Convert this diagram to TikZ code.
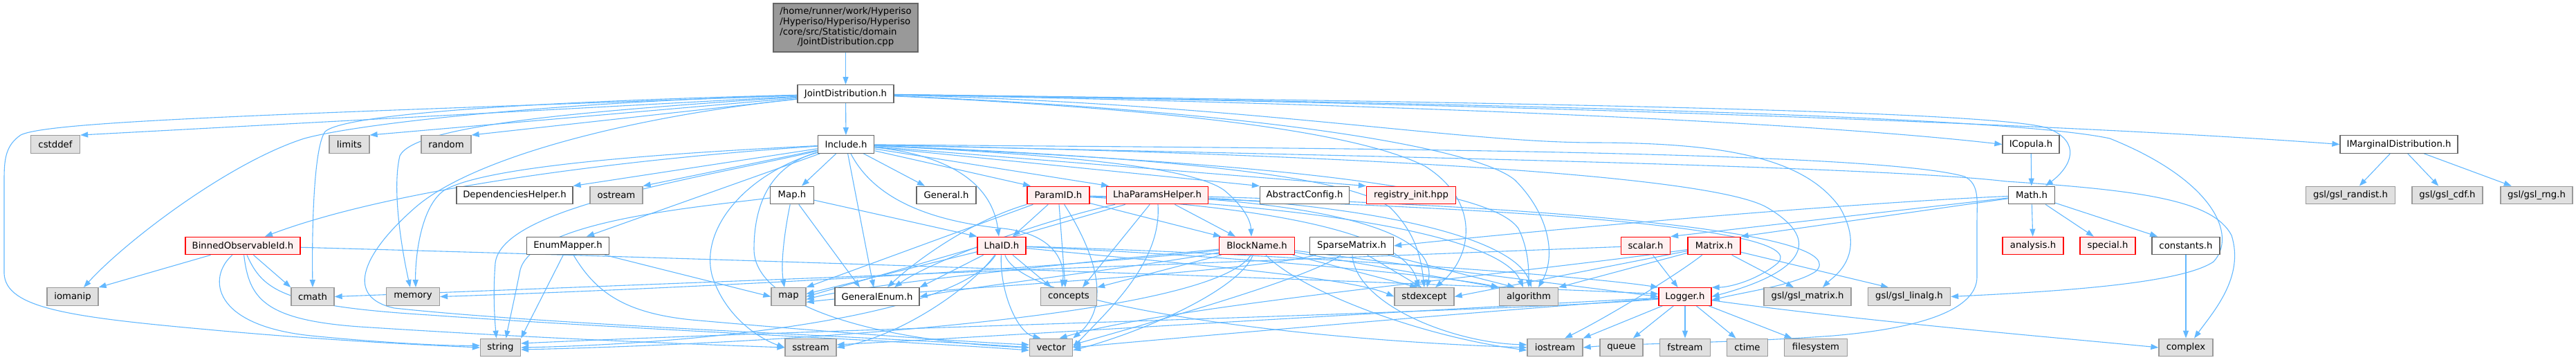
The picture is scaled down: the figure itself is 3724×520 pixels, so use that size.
\documentclass[tikz,border=0pt]{standalone}
\usepackage{fontspec}
\newfontfamily\nf{DejaVu Sans}
\usetikzlibrary{arrows.meta}
\definecolor{edgec}{HTML}{63B8FF}
\definecolor{grayA}{HTML}{666666}
\definecolor{grayB}{HTML}{999999}
\definecolor{grayC}{HTML}{E0E0E0}
\definecolor{redfill}{HTML}{FFF0F0}
\definecolor{redline}{HTML}{FF0000}
\pgfdeclarelayer{bg}
\pgfsetlayers{bg,main}
\tikzset{
  base/.style={draw, line width=1.3bp, minimum height=25.5bp, inner sep=0pt, text=black, font=\nf\fontsize{13.3}{14.7}\selectfont},
  wn/.style={base, draw=grayA, fill=white},
  rn/.style={base, draw=redline, fill=redfill},
  sn/.style={base, draw=grayB, fill=grayC},
  rootn/.style={base, draw=grayA, fill=grayB, minimum width=209bp, minimum height=70bp},
  ed/.style={draw=edgec, line width=1.1bp, -{Triangle[length=11bp,width=8bp]}},
}
\begin{document}
\begin{tikzpicture}[x=1bp,y=-1bp]
\useasboundingbox (0,0) rectangle (3724,520);
% row 0,1,2
\node[rootn] (cpp) at (1222.5,40) {\begin{tabular}{@{}l@{}}/home/runner/work/Hyperiso\\/Hyperiso/Hyperiso/Hyperiso\\/core/src/Statistic/domain\\\multicolumn{1}{@{}c@{}}{/JointDistribution.cpp}\end{tabular}};
\node[wn, minimum width=139bp] (jd) at (1222.5,135.5) {JointDistribution.h};
\node[wn, minimum width=81.5bp] (inc) at (1223,208.5) {Include.h};
\node[sn, minimum width=71bp] (cstddef) at (80,208.5) {cstddef};
\node[sn, minimum width=58bp] (limits) at (505,208.5) {limits};
\node[sn, minimum width=72bp] (random) at (645,208.5) {random};
\node[wn, minimum width=82bp] (icopula) at (2936,208.5) {ICopula.h};
\node[wn, minimum width=170bp] (imarg) at (3468,208.5) {IMarginalDistribution.h};
% row 3
\node[wn, minimum width=168bp] (deps) at (744,282) {DependenciesHelper.h};
\node[sn, minimum width=76bp] (ostream) at (891,282) {ostream};
\node[wn, minimum width=63bp] (maph) at (1145,282) {Map.h};
\node[wn, minimum width=86bp] (general) at (1368,282) {General.h};
\node[rn, minimum width=90bp] (paramid) at (1530,282) {ParamID.h};
\node[rn, minimum width=147bp] (lhaph) at (1673,282) {LhaParamsHelper.h};
\node[wn, minimum width=129bp] (absconf) at (1886,282) {AbstractConfig.h};
\node[rn, minimum width=129bp] (registry) at (2040,282) {registry\_init.hpp};
\node[wn, minimum width=67bp] (math) at (2937,282) {Math.h};
\node[sn, minimum width=129bp] (randist) at (3398,282) {gsl/gsl\_randist.h};
\node[sn, minimum width=102bp] (cdf) at (3538,282) {gsl/gsl\_cdf.h};
\node[sn, minimum width=104bp] (rng) at (3667,282) {gsl/gsl\_rng.h};
% row 4
\node[rn, minimum width=166bp] (binned) at (351,355) {BinnedObservableId.h};
\node[wn, minimum width=119bp] (enummap) at (821,355) {EnumMapper.h};
\node[rn, minimum width=70bp] (lhaid) at (1448,355) {LhaID.h};
\node[rn, minimum width=109bp] (block) at (1817,355) {BlockName.h};
\node[wn, minimum width=121bp] (sparse) at (1954,355) {SparseMatrix.h};
\node[rn, minimum width=71bp] (scalar) at (2379,355) {scalar.h};
\node[rn, minimum width=76bp] (matrix) at (2478,355) {Matrix.h};
\node[rn, minimum width=88bp] (analysis) at (2939,355) {analysis.h};
\node[rn, minimum width=80bp] (special) at (3047,355) {special.h};
\node[wn, minimum width=98bp] (constants) at (3160,355) {constants.h};
% row 5
\node[sn, minimum width=74bp] (iomanip) at (105,428.5) {iomanip};
\node[sn, minimum width=62bp] (cmath) at (452,428.5) {cmath};
\node[sn, minimum width=77bp] (memory) at (597,428.5) {memory};
\node[sn, minimum width=50bp] (map) at (1140,428.5) {map};
\node[wn, minimum width=122bp] (genenum) at (1268,428.5) {GeneralEnum.h};
\node[sn, minimum width=81bp] (concepts) at (1545,428.5) {concepts};
\node[sn, minimum width=86bp] (stdexcept) at (2059,428.5) {stdexcept};
\node[sn, minimum width=85bp] (algorithm) at (2210,428.5) {algorithm};
\node[rn, minimum width=76bp] (logger) at (2436,428.5) {Logger.h};
\node[sn, minimum width=126bp] (gslmatrix) at (2613,428.5) {gsl/gsl\_matrix.h};
\node[sn, minimum width=119bp] (gsllinalg) at (2760,428.5) {gsl/gsl\_linalg.h};
% row 6
\node[sn, minimum width=58bp] (string) at (723.5,502) {string};
\node[sn, minimum width=74bp] (sstream) at (1172,502) {sstream};
\node[sn, minimum width=62bp] (vector) at (1519.5,502) {vector};
\node[sn, minimum width=80bp] (iostream) at (2248,502) {iostream};
\node[sn, minimum width=62bp] (queue) at (2344,502) {queue};
\node[sn, minimum width=73bp] (fstream) at (2436,502) {fstream};
\node[sn, minimum width=59bp] (ctime) at (2526,502) {ctime};
\node[sn, minimum width=91bp] (filesystem) at (2625,502) {filesystem};
\node[sn, minimum width=78bp] (complex) at (3160,502) {complex};

\begin{pgfonlayer}{bg}
\draw[ed] (cpp) -- (jd);
% JointDistribution.h
\draw[ed] (jd) -- (inc);
\draw[ed] (jd) -- (cstddef.north east);
\draw[ed] (jd) -- (limits.north east);
\draw[ed] (jd) -- (random.north east);
\draw[ed] (jd) .. controls (400,165) and (70,175) .. (30,195) .. controls (8,210) and (6,230) .. (6,260) -- (6,395) .. controls (8,445) and (100,458) .. (300,476) .. controls (450,490) and (600,498) .. (string.west);
\draw[ed] (jd) .. controls (800,148) and (520,178) .. (440,200) .. controls (330,235) and (180,350) .. ([xshift=16bp]iomanip.north);
\draw[ed] (jd) .. controls (800,146) and (500,163) .. (470,190) .. controls (452,215) and (451,350) .. (cmath.north);
\draw[ed] (jd) .. controls (850,160) and (600,180) .. (578,225) .. controls (565,280) and (585,380) .. ([xshift=-4bp]memory.north);
\draw[ed] (jd) .. controls (900,170) and (680,230) .. (600,300) .. controls (520,370) and (500,430) .. (570,445) .. controls (800,470) and (1300,488) .. (vector.west);
\draw[ed] (jd) .. controls (2000,150) and (2600,175) .. (icopula.west);
\draw[ed] (jd) .. controls (2200,150) and (3000,180) .. (imarg.west);
\draw[ed] (jd) .. controls (2200,148) and (2880,160) .. (2960,185) .. controls (3010,205) and (2995,240) .. ([xshift=20bp]math.north);
\draw[ed] (jd) .. controls (2200,150) and (2900,168) .. (3050,200) .. controls (3200,260) and (3235,340) .. (3200,378) .. controls (3150,412) and (2950,422) .. (gsllinalg.east);
\draw[ed] (jd) .. controls (1800,150) and (2100,205) .. (2300,206) .. controls (2500,206) and (2610,230) .. (2660,300) .. controls (2700,370) and (2650,400) .. ([xshift=22bp]gslmatrix.north);
\draw[ed] (jd) .. controls (1700,158) and (1960,190) .. (2060,240) .. controls (2140,290) and (2130,370) .. ([xshift=16bp]stdexcept.north);
\draw[ed] (jd) .. controls (1800,160) and (2130,210) .. (2190,260) .. controls (2240,310) and (2250,370) .. ([xshift=14bp]algorithm.north);
% Include.h
\draw[ed] (inc) -- ([xshift=14bp]maph.north);
\draw[ed] (inc) -- ([xshift=-31bp]general.north);
\draw[ed] (inc) -- ([xshift=-40bp]paramid.north);
\draw[ed] (inc) -- ([xshift=-70bp]lhaph.north);
\draw[ed] (inc) -- (absconf.north west);
\draw[ed] (inc) -- (registry.north west);
\draw[ed] (inc) .. controls (1380,225) and (1435,270) .. ([xshift=-4bp]lhaid.north);
\draw[ed] (inc) .. controls (1500,222) and (1720,238) .. (1770,275) .. controls (1800,300) and (1808,320) .. ([xshift=-8bp]block.north);
\draw[ed] (inc) -- ([xshift=-5bp]genenum.north);
\draw[ed] (inc) .. controls (1260,280) and (1330,318) .. (1450,330) .. controls (1525,338) and (1540,380) .. ([xshift=-10bp]concepts.north);
\draw[ed] (inc) -- (deps.north east);
\draw[ed] (inc) -- (ostream.north east);
\draw[ed] (inc) -- ([xshift=27bp]enummap.north);
\draw[ed] (inc) .. controls (1000,223) and (600,260) .. ([xshift=32bp]binned.north);
\draw[ed] (inc) .. controls (1000,260) and (725,300) .. (716,380) .. controls (712,430) and (716,470) .. ([xshift=-6bp]string.north);
\draw[ed] (inc) .. controls (950,222) and (700,240) .. (642,275) .. controls (606,300) and (600,380) .. ([xshift=4bp]memory.north);
\draw[ed] (inc) .. controls (1110,240) and (1090,300) .. (1090,360) .. controls (1090,450) and (1300,495) .. (vector.west);
\draw[ed] (inc) .. controls (1080,250) and (1010,330) .. (1030,400) .. controls (1050,460) and (1100,490) .. (sstream.west);
\draw[ed] (inc) .. controls (1800,214) and (2700,215) .. (2840,255) .. controls (2862,266) and (2858,290) .. (2858,320) -- (2858,400) .. controls (2858,440) and (2800,472) .. (2650,485) .. controls (2500,496) and (2350,496) .. (iostream.east);
\draw[ed] (inc) .. controls (1800,222) and (2700,238) .. (2900,262) .. controls (3100,275) and (3200,290) .. (3226,340) .. controls (3245,400) and (3200,450) .. ([xshift=12bp]complex.north);
\draw[ed] (inc) .. controls (1900,222) and (2470,250) .. (2555,300) .. controls (2640,350) and (2600,395) .. (logger.east);
\draw[ed] (inc) .. controls (1700,228) and (1950,255) .. (2010,300) .. controls (2050,340) and (2055,380) .. (stdexcept.north);
\draw[ed] (inc) .. controls (1800,235) and (2150,265) .. (2195,330) .. controls (2210,360) and (2210,390) .. (algorithm.north);
% Map.h
\draw[ed] (maph) .. controls (1135,330) and (1128,380) .. ([xshift=-6bp]map.north);
\draw[ed] (maph) -- ([xshift=-25bp]genenum.north);
\draw[ed] (maph) -- (lhaid.north west);
\draw[ed] (maph) .. controls (1000,300) and (770,320) .. (752,390) .. controls (742,440) and (735,470) .. ([xshift=8bp]string.north);
% ParamID.h
\draw[ed] (paramid) -- ([xshift=16bp]lhaid.north);
\draw[ed] (paramid) -- ([xshift=-52bp]block.north);
\draw[ed] (paramid) -- (map.north east);
\draw[ed] (paramid) .. controls (1400,320) and (1320,380) .. ([xshift=15bp]genenum.north);
\draw[ed] (paramid) -- ([xshift=-5bp]concepts.north);
\draw[ed] (paramid) .. controls (1580,360) and (1610,440) .. (vector.north east);
\draw[ed] (paramid) .. controls (1800,298) and (2030,330) .. ([xshift=-8bp]stdexcept.north);
\draw[ed] (paramid) .. controls (1900,298) and (2170,340) .. ([xshift=-8bp]algorithm.north);
\draw[ed] (paramid) .. controls (2200,298) and (2620,330) .. (2570,380) .. controls (2540,405) and (2500,415) .. (logger.north east);
% LhaParamsHelper.h
\draw[ed] (lhaph) -- ([xshift=-31bp]block.north);
\draw[ed] (lhaph) -- (map.east);
\draw[ed] (lhaph) .. controls (1500,320) and (1340,380) .. ([xshift=25bp]genenum.north);
\draw[ed] (lhaph) -- ([xshift=20bp]concepts.north);
\draw[ed] (lhaph) .. controls (1680,380) and (1600,450) .. (vector.east);
\draw[ed] (lhaph) .. controls (1900,300) and (2080,330) .. ([xshift=4bp]stdexcept.north);
\draw[ed] (lhaph) .. controls (2000,300) and (2190,345) .. ([xshift=4bp]algorithm.north);
\draw[ed] (lhaph) .. controls (2300,300) and (2680,340) .. (2625,392) .. controls (2595,412) and (2520,422) .. ([yshift=-5bp]logger.east);
% LhaID.h
\draw[ed] (lhaid) -- ([yshift=4bp]map.east);
\draw[ed] (lhaid) -- (genenum.north east);
\draw[ed] (lhaid) -- ([xshift=-25bp]concepts.north);
\draw[ed] (lhaid) .. controls (1445,420) and (1470,480) .. ([xshift=-15bp]vector.north);
\draw[ed] (lhaid) .. controls (1400,420) and (1300,485) .. (sstream.east);
\draw[ed] (lhaid) .. controls (1380,460) and (1000,497) .. (string.east);
\draw[ed] (lhaid) .. controls (1700,380) and (1950,400) .. (stdexcept.west);
\draw[ed] (lhaid) .. controls (1800,370) and (2100,400) .. (algorithm.north west);
\draw[ed] (lhaid) .. controls (1900,368) and (2300,400) .. (logger.north west);
\draw[ed] (lhaid) .. controls (1480,445) and (1900,492) .. (iostream.west);
% BlockName.h
\draw[ed] (block) .. controls (1600,375) and (1250,410) .. ([yshift=-4bp]map.east);
\draw[ed] (block) .. controls (1650,385) and (1400,415) .. (genenum.east);
\draw[ed] (block) -- (concepts.north east);
\draw[ed] (block) .. controls (1790,420) and (1650,480) .. ([yshift=-4bp]vector.east);
\draw[ed] (block) .. controls (1750,460) and (1100,497) .. ([yshift=-3bp]string.east);
\draw[ed] (block) -- ([xshift=-10bp]stdexcept.north);
\draw[ed] (block) -- (algorithm.north west);
\draw[ed] (block) -- (logger.west);
\draw[ed] (block) .. controls (1880,420) and (2050,485) .. ([yshift=-4bp]iostream.west);
\draw[ed] (block) .. controls (1500,392) and (900,420) .. (memory.east);
% SparseMatrix.h
\draw[ed] (sparse) -- ([xshift=-4bp]stdexcept.north);
\draw[ed] (sparse) -- ([xshift=-20bp]algorithm.north);
\draw[ed] (sparse) .. controls (1960,440) and (2100,495) .. ([yshift=4bp]iostream.west);
\draw[ed] (sparse) .. controls (1900,400) and (1650,470) .. ([yshift=4bp]vector.east);
\draw[ed] (sparse) .. controls (1800,395) and (1300,420) .. ([yshift=-8bp]map.east);
% scalar.h, Matrix.h
\draw[ed] (scalar) -- (logger);
\draw[ed] (scalar) -- (cmath.east);
\draw[ed] (matrix) -- (stdexcept.east);
\draw[ed] (matrix) -- (algorithm.north east);
\draw[ed] (matrix) .. controls (2420,400) and (2320,460) .. ([xshift=14bp]iostream.north);
\draw[ed] (matrix) -- ([xshift=-20bp]gslmatrix.north);
\draw[ed] (matrix) -- ([xshift=-30bp]gsllinalg.north);
\draw[ed] (matrix) .. controls (2200,395) and (1700,440) .. ([xshift=12bp]vector.north);
% BinnedObservableId.h
\draw[ed] (binned) -- (iomanip.north east);
\draw[ed] (binned) -- (cmath.north west);
\draw[ed] (binned) .. controls (300,400) and (305,470) .. (450,485) .. controls (550,495) and (650,500) .. ([yshift=3bp]string.west);
\draw[ed] (binned) .. controls (360,430) and (380,462) .. (520,472) .. controls (800,490) and (1000,497) .. (sstream.west);
\draw[ed] (binned) .. controls (380,420) and (410,442) .. (620,455) .. controls (900,475) and (1300,492) .. ([yshift=-4bp]vector.west);
\draw[ed] (binned) .. controls (900,370) and (1800,398) .. ([yshift=4bp]logger.west);
% EnumMapper.h
\draw[ed] (enummap) -- (string.north east);
\draw[ed] (enummap) -- (map.west);
\draw[ed] (enummap) .. controls (860,420) and (900,452) .. (1000,462) .. controls (1200,480) and (1400,494) .. ([yshift=4bp]vector.west);
% Logger.h
\draw[ed] (logger) -- (iostream.north east);
\draw[ed] (logger) -- (queue);
\draw[ed] (logger) -- (fstream);
\draw[ed] (logger) -- (ctime);
\draw[ed] (logger) -- (filesystem);
\draw[ed] (logger) .. controls (2700,465) and (3000,490) .. (complex.west);
\draw[ed] (logger) .. controls (2200,450) and (1200,475) .. ([yshift=6bp]string.east);
\draw[ed] (logger) .. controls (2100,445) and (1500,482) .. ([yshift=4bp]sstream.east);
\draw[ed] (logger) .. controls (2200,445) and (1700,488) .. (vector.east);
% Math.h and others
\draw[ed] (math) .. controls (2700,292) and (2300,325) .. (sparse.east);
\draw[ed] (math) -- (scalar.north east);
\draw[ed] (math) -- (matrix.north east);
\draw[ed] (math) -- (analysis);
\draw[ed] (math) -- (special);
\draw[ed] (math) -- (constants);
\draw[ed] (icopula) -- (math);
\draw[ed] (constants) -- (complex);
\draw[ed] (imarg) -- (randist);
\draw[ed] (imarg) -- (cdf);
\draw[ed] (imarg) -- (rng);
\end{pgfonlayer}
\end{tikzpicture}
\end{document}
